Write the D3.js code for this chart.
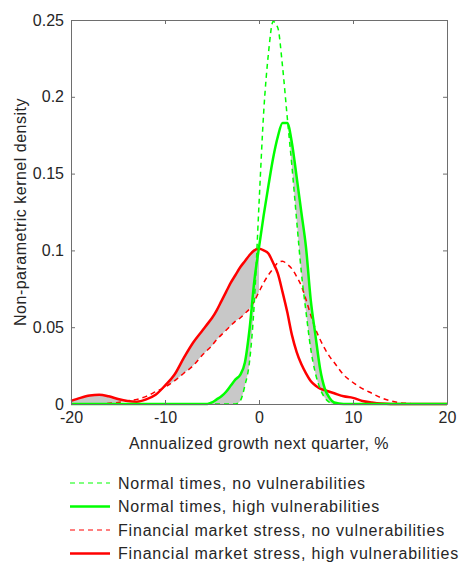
<!DOCTYPE html>
<html>
<head>
<meta charset="utf-8">
<script src="https://cdn.jsdelivr.net/npm/d3@7"></script>
<style>
  body { margin: 0; background: #fff; }
  text { font-family: "Liberation Sans", Arial, sans-serif; fill: #262626; }
</style>
</head>
<body>
<svg id="chart"></svg>
<script>
var w = 460;
var h = 562;
// common growth grid (%), denser in the middle
let xs = [-20,-19,-18,-17,-16,-15,-14,-13,-12,-11,-10,-9,-8,-7,-6,
  -5.5,-5,-4.5,-4,-3.5,-3,-2.5,-2,-1.5,-1,-0.5,0,0.5,1,1.5,2,2.5,3,3.5,4,4.5,5,5.5,6,6.5,7,7.5,8,
  9,10,11,12,13,14,15,16,17,18,19,20];
// densities
let normalNoVuln = [0,0,0,0,0,0,0,0,0,0,0,0,0,0,0,
  0,0,0,0,0,0,0,0.002,0.012,0.028,0.066,0.13,0.19,0.228,0.249,0.245,0.22,0.187,0.155,0.12,0.086,0.06,0.036,0.02,0.01,0.004,0.001,0,
  0,0,0,0,0,0,0,0,0,0,0,0];
let normalHighVuln = [0,0,0,0,0,0,0,0,0,0,0,0,0,0,0,
  0,0.001,0.003,0.005,0.008,0.012,0.016,0.019,0.027,0.049,0.08,0.102,0.123,0.142,0.16,0.174,0.183,0.183,0.17,0.148,0.125,0.102,0.068,0.045,0.023,0.01,0.004,0.001,
  0,0,0,0,0,0,0,0,0,0,0,0];
let stressNoVuln = [0,0,0,0,0.0005,0.001,0.002,0.003,0.005,0.008,0.011,0.015,0.02,0.025,0.032,
  0.035,0.038,0.042,0.045,0.048,0.051,0.054,0.056,0.059,0.062,0.067,0.073,0.079,0.084,0.088,0.092,0.093,0.091,0.088,0.083,0.077,0.068,0.058,0.049,0.042,0.036,0.031,0.027,
  0.019,0.014,0.01,0.007,0.004,0.002,0.0008,0.0003,0,0,0,0];
let stressHighVuln = [0.002,0.004,0.0055,0.006,0.005,0.0033,0.002,0.0015,0.003,0.006,0.012,0.019,0.03,0.04,0.048,
  0.052,0.056,0.061,0.067,0.073,0.079,0.084,0.089,0.093,0.097,0.1,0.101,0.1,0.098,0.092,0.085,0.073,0.06,0.045,0.034,0.026,0.02,0.015,0.012,0.01,0.009,0.008,0.007,
  0.005,0.004,0.002,0.001,0.0003,0,0,0,0,0,0,0];
let xTicks = [-20, -10, 0, 10, 20];
let yTicks = [0, 0.05, 0.1, 0.15, 0.2, 0.25];
let legendNames = ["Normal times, no vulnerabilities", "Normal times, high vulnerabilities",
  "Financial market stress, no vulnerabilities", "Financial market stress, high vulnerabilities"];

var series = [
  { name: legendNames[2], vals: stressNoVuln, color: "#ff0000", dash: true },
  { name: legendNames[3], vals: stressHighVuln, color: "#ff0000", dash: false },
  { name: legendNames[0], vals: normalNoVuln, color: "#00ff00", dash: true },
  { name: legendNames[1], vals: normalHighVuln, color: "#00ff00", dash: false }
];

var m = { left: 71, top: 20, right: 13, bottom: 158 };
var pw = w - m.left - m.right;
var ph = h - m.top - m.bottom;

var svg = d3.select("#chart").attr("width", w).attr("height", h);
var g = svg.append("g").attr("transform", "translate(" + m.left + "," + m.top + ")");

var x = d3.scaleLinear().domain([-20, 20]).range([0, pw]);
var y = d3.scaleLinear().domain([0, 0.25]).range([ph, 0]);

// shaded gaps where high vulnerabilities lie above no vulnerabilities
function shade(hi, lo, maxX) {
  var pts = xs.map((v, i) => ({ x: v, hi: hi[i], lo: Math.min(hi[i], lo[i]) }))
    .filter(p => p.x <= maxX);
  var area = d3.area()
    .x(p => x(p.x))
    .y0(p => y(p.lo))
    .y1(p => y(p.hi))
    .curve(d3.curveMonotoneX);
  g.append("path").attr("d", area(pts)).attr("fill", "#c8c8c8").attr("stroke", "none");
}
shade(stressHighVuln, stressNoVuln, 0);
shade(normalHighVuln, normalNoVuln, 20);

var line = d3.line()
  .x((d, i) => x(xs[i]))
  .y(d => y(d))
  .curve(d3.curveMonotoneX);

series.forEach(s => {
  g.append("path")
    .attr("d", line(s.vals))
    .attr("fill", "none")
    .attr("stroke", s.color)
    .attr("stroke-width", s.dash ? 1.5 : 2.5)
    .attr("stroke-dasharray", s.dash ? "5,4" : null)
    .attr("stroke-linejoin", "round");
});

// axes, ticks inward on all four sides
function styleAxis(sel) {
  sel.selectAll("path").attr("stroke", "#6e6e6e");
  sel.selectAll("line").attr("stroke", "#6e6e6e");
  sel.selectAll("text").attr("font-size", "16px").attr("fill", "#262626")
    .style("font-family", "'Liberation Sans', Arial, sans-serif");
}
var fmt = d => String(d);
g.append("g").attr("transform", "translate(0," + ph + ")")
  .call(d3.axisBottom(x).tickValues(xTicks).tickSize(-4).tickSizeOuter(0).tickPadding(8).tickFormat(fmt))
  .call(styleAxis);
g.append("g")
  .call(d3.axisTop(x).tickValues(xTicks).tickSize(-4).tickSizeOuter(0).tickFormat(""))
  .call(styleAxis);
g.append("g")
  .call(d3.axisLeft(y).tickValues(yTicks).tickSize(-4).tickSizeOuter(0).tickPadding(7).tickFormat(fmt))
  .call(styleAxis);
g.append("g").attr("transform", "translate(" + pw + ",0)")
  .call(d3.axisRight(y).tickValues(yTicks).tickSize(-4).tickSizeOuter(0).tickFormat(""))
  .call(styleAxis);

g.append("text")
  .attr("x", pw / 2).attr("y", ph + 45)
  .attr("text-anchor", "middle").attr("font-size", "16px")
  .attr("letter-spacing", "0.5px")
  .text("Annualized growth next quarter, %");
g.append("text")
  .attr("transform", "translate(-45," + (ph / 2) + ") rotate(-90)")
  .attr("text-anchor", "middle").attr("font-size", "16px")
  .attr("letter-spacing", "0.5px")
  .text("Non-parametric kernel density");

// legend
var legend = svg.append("g").attr("transform", "translate(70,483)");
var legItems = [series[2], series[3], series[0], series[1]];
legItems.forEach((s, i) => {
  var row = legend.append("g").attr("transform", "translate(0," + (i * 23.5) + ")");
  row.append("line")
    .attr("x1", 0).attr("x2", 40).attr("y1", 0).attr("y2", 0)
    .attr("stroke", s.color)
    .attr("stroke-width", s.dash ? 1.2 : 2.5)
    .attr("stroke-dasharray", s.dash ? "5,4" : null);
  row.append("text")
    .attr("x", 48).attr("y", 5.5)
    .attr("font-size", "16px")
    .attr("letter-spacing", "0.8px")
    .text(s.name);
});
</script>
</body>
</html>
